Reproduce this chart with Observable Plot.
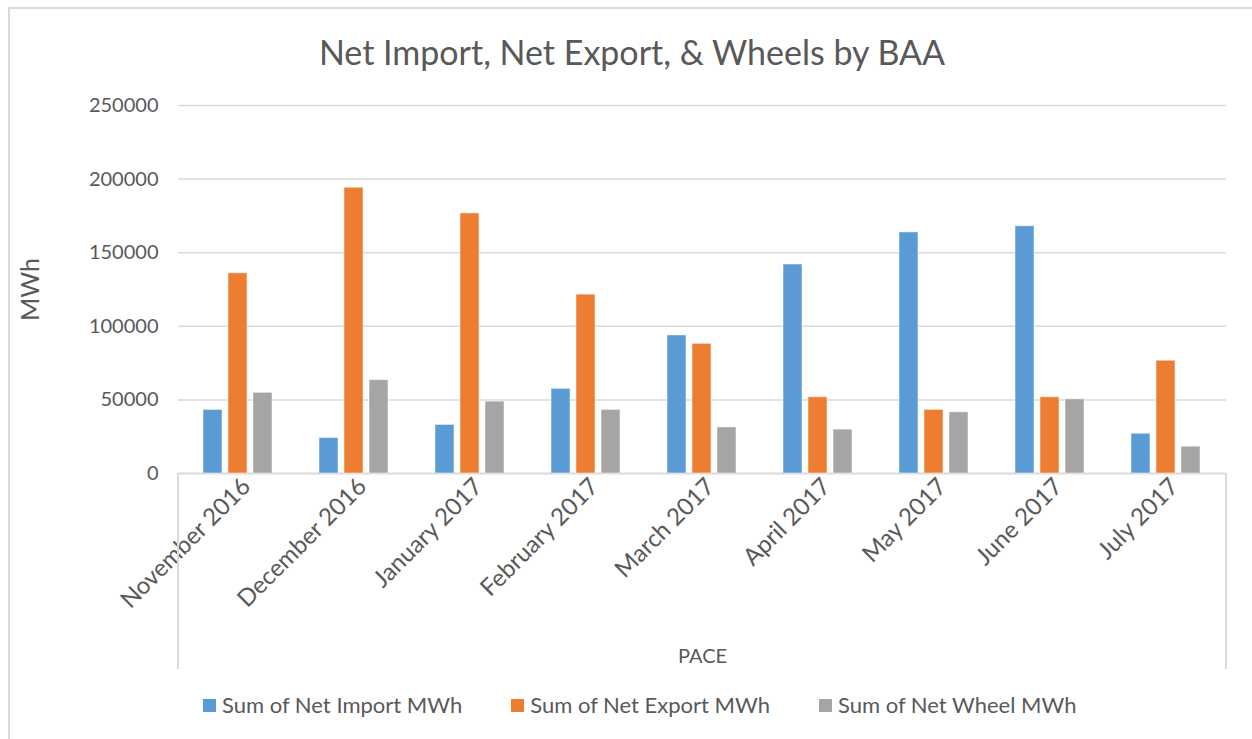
<!DOCTYPE html>
<html>
<head>
<meta charset="utf-8">
<script src="https://cdn.jsdelivr.net/npm/d3@7"></script>
<script src="https://cdn.jsdelivr.net/npm/@observablehq/plot@0.6"></script>
<style>
  body { margin: 0; background: #fff; overflow: hidden; font-family: Lato, "Open Sans", sans-serif; color: #595959; }
  #wrap { position: relative; width: 1252px; height: 739px; overflow: hidden; background: #fff; }
  #border { position: absolute; left: 8px; top: 7px; width: 1400px; height: 900px; border-left: 2px solid #d9d9d9; border-top: 2px solid #d9d9d9; }
  #title { position: absolute; left: 0; width: 1264px; top: 32px; text-align: center; font-size: 34px; line-height: 40px; color: #595959; }
  .layer { position: absolute; left: 0; top: 90px; }
  .vline { position: absolute; top: 473px; height: 196px; width: 2px; background: #d9d9d9; }
  #legend { position: absolute; left: 203px; top: 692px; display: flex; gap: 49px; font-size: 22px; line-height: 26px; color: #595959; }
  .item { display: flex; align-items: center; }
  .sw { width: 13px; height: 13px; margin-right: 6px; }
</style>
</head>
<body>
<div id="wrap">
  <div id="border"></div>
  <div id="title">Net Import, Net Export, &amp; Wheels by BAA</div>
  <div id="back" class="layer"></div>
  <div id="front" class="layer"></div>
  <div class="vline" style="left:177px"></div>
  <div class="vline" style="left:1225px"></div>
  <div id="legend"></div>
</div>
<script>
const months = ["November 2016", "December 2016", "January 2017", "February 2017", "March 2017", "April 2017", "May 2017", "June 2017", "July 2017"];
const seriesNames = ["Sum of Net Import MWh", "Sum of Net Export MWh", "Sum of Net Wheel MWh"];
const netImport = [43200, 24100, 33000, 57500, 93800, 142000, 163800, 168000, 27000];
const netExport = [136000, 194100, 176700, 121500, 88100, 51800, 43200, 51800, 76600];
const netWheel = [54800, 63400, 48800, 43200, 31300, 29800, 41600, 50400, 18200];
const yTicks = [0, 50000, 100000, 150000, 200000, 250000];
const colors = ["#5B9BD5", "#ED7D31", "#A5A5A5"];

const seriesValues = [netImport, netExport, netWheel];
const data = months.flatMap((m, i) => seriesNames.map((s, j) => ({month: m, series: s, value: seriesValues[j][i]})));

const common = {
  width: 1252,
  height: 590,
  marginLeft: 178,
  marginRight: 26,
  marginTop: 15,
  marginBottom: 207,
  style: {fontFamily: "Lato, 'Open Sans', sans-serif", fontSize: "20px", color: "#595959", background: "transparent"},
  y: {domain: [0, 250000]}
};

// Background layer: y axis, gridlines, baseline
const back = Plot.plot({
  ...common,
  marks: [
    Plot.gridY(yTicks.filter(d => d > 0), {stroke: "#d9d9d9", strokeOpacity: 1, strokeWidth: 1.5}),
    Plot.ruleY([0], {stroke: "#d9d9d9", strokeWidth: 2}),
    Plot.axisY({ticks: yTicks, tickSize: 0, tickPadding: 20, tickFormat: d => String(d), label: null, fontSize: 20}),
    Plot.axisY({ticks: [], label: "MWh", labelAnchor: "center", labelArrow: "none", labelOffset: 157, fontSize: 25})
  ]
});
document.getElementById("back").appendChild(back);

// Foreground layer: grouped bars by month
const front = Plot.plot({
  ...common,
  fx: {domain: months, paddingInner: 0.4, paddingOuter: 0.2},
  x: {domain: seriesNames, paddingInner: 0.23, paddingOuter: 0},
  color: {domain: seriesNames, range: colors},
  marks: [
    Plot.barY(data, {fx: "month", x: "series", y: "value", fill: "series", stroke: "#ffffff", strokeOpacity: 0.5, strokeWidth: 1}),
    Plot.axisX({ticks: [], label: null}),
    Plot.axisY({ticks: [], label: null}),
    Plot.axisFx({anchor: "bottom", tickRotate: -45, tickSize: 0, tickPadding: 14, dx: 8, dy: -5, label: null, fontSize: 24}),
    Plot.axisFx({anchor: "bottom", ticks: [], label: "PACE", labelAnchor: "center", labelArrow: "none", labelOffset: 189, fontSize: 20})
  ]
});
document.getElementById("front").appendChild(front);

const legend = document.getElementById("legend");
seriesNames.forEach((s, i) => {
  const item = document.createElement("div");
  item.className = "item";
  const sw = document.createElement("span");
  sw.className = "sw";
  sw.style.background = colors[i];
  const t = document.createElement("span");
  t.textContent = s;
  item.appendChild(sw);
  item.appendChild(t);
  legend.appendChild(item);
});
</script>
</body>
</html>
